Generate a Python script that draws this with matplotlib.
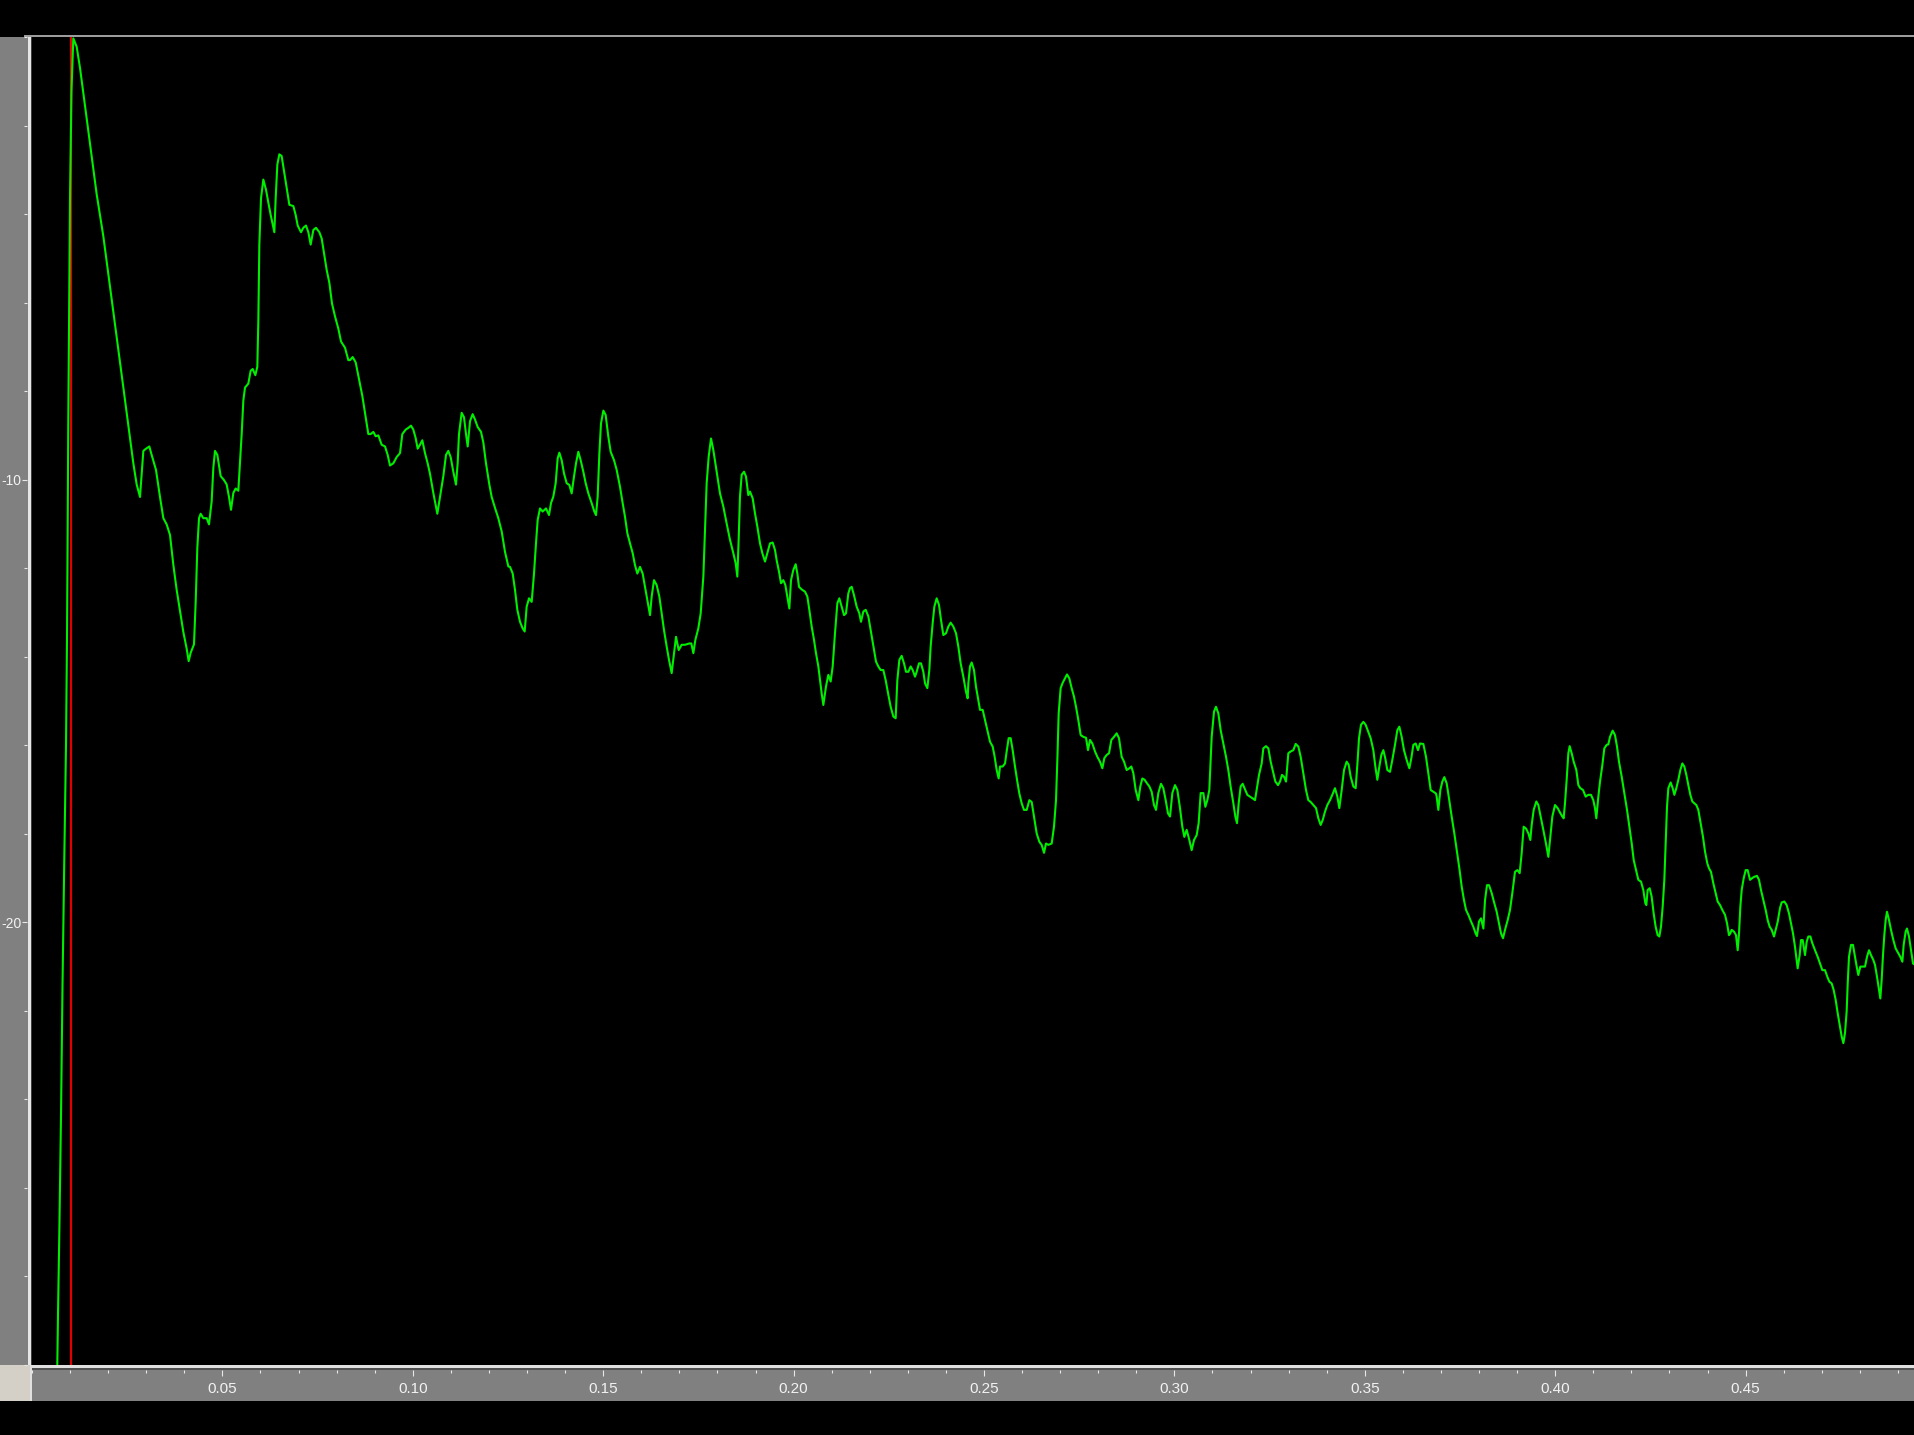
import matplotlib
matplotlib.use("Agg")
import matplotlib.pyplot as plt
from matplotlib.patches import Rectangle
from matplotlib.ticker import FixedLocator, FixedFormatter, MultipleLocator, FormatStrFormatter

plt.rcParams['font.family'] = ['Liberation Sans', 'DejaVu Sans']
plt.rcParams['axes.unicode_minus'] = False

# spectrum trace (normalised frequency, dB)
edge = [(0.0063, -31.0), (0.00664, -30.0), (0.00683, -28.85), (0.00717, -27.04), (0.00762, -24.35),
        (0.00801, -21.44), (0.00846, -18.68), (0.00893, -15.99), (0.00919, -13.62), (0.00953, -8.67),
        (0.00998, -3.64), (0.01037, -1.22)]

seg1 = [(0.01085, -0.03), (0.01173, -0.22), (0.01261, -0.70), (0.01348, -1.27), (0.01436, -1.84),
        (0.01523, -2.41), (0.01611, -2.98), (0.01698, -3.55), (0.01786, -4.02), (0.01873, -4.50),
        (0.01961, -5.07), (0.02048, -5.64), (0.02136, -6.21), (0.02223, -6.78), (0.02311, -7.35),
        (0.02399, -7.92), (0.02486, -8.49), (0.02574, -9.06), (0.02661, -9.63), (0.02749, -10.11),
        (0.02836, -10.39), (0.02924, -9.35), (0.02994, -9.30), (0.03081, -9.25), (0.03142, -9.44),
        (0.03256, -9.78), (0.03361, -10.39), (0.03449, -10.87), (0.03536, -11.01), (0.03624, -11.25),
        (0.03711, -11.92), (0.03799, -12.49), (0.03887, -12.96), (0.03974, -13.44), (0.04062, -13.82),
        (0.04114, -14.10), (0.04167, -13.91), (0.04254, -13.72), (0.04298, -12.77), (0.04342, -11.53),
        (0.04386, -10.87), (0.04429, -10.77), (0.04499, -10.87), (0.04587, -10.87), (0.04648, -11.01),
        (0.04718, -10.49), (0.04762, -9.73), (0.04806, -9.35), (0.04867, -9.44), (0.04955, -9.92),
        (0.05042, -10.01), (0.05112, -10.11), (0.05173, -10.39), (0.05226, -10.68), (0.05287, -10.30),
        (0.05348, -10.20), (0.05418, -10.25), (0.05462, -9.63), (0.05506, -8.97), (0.05550, -8.21),
        (0.05594, -7.92), (0.05681, -7.83), (0.05742, -7.54), (0.05795, -7.50), (0.05865, -7.64),
        (0.05917, -7.45), (0.05944, -6.40), (0.05970, -4.69), (0.06014, -3.64), (0.06075, -3.22),
        (0.06145, -3.45), (0.06206, -3.74), (0.06268, -4.02), (0.06364, -4.41), (0.06399, -3.64),
        (0.06443, -2.88), (0.06495, -2.65), (0.06556, -2.69), (0.06618, -3.03), (0.06688, -3.41),
        (0.06758, -3.79), (0.06863, -3.82), (0.06924, -4.02), (0.06977, -4.26), (0.07064, -4.41),
        (0.07125, -4.31), (0.07195, -4.26), (0.07257, -4.41), (0.07318, -4.69), (0.07388, -4.36),
        (0.07458, -4.31), (0.07546, -4.41), (0.07607, -4.55), (0.07668, -4.88), (0.07738, -5.26),
        (0.07808, -5.55), (0.07878, -6.02), (0.07957, -6.31), (0.08045, -6.59), (0.08115, -6.88),
        (0.08220, -7.02), (0.08307, -7.30), (0.08351, -7.30), (0.08421, -7.23), (0.08500, -7.35),
        (0.08587, -7.73), (0.08675, -8.11), (0.08745, -8.49), (0.08832, -8.97), (0.08894, -8.97),
        (0.08964, -8.92), (0.09025, -9.02), (0.09095, -9.00), (0.09182, -9.21), (0.09270, -9.25),
        (0.09340, -9.44), (0.09401, -9.68), (0.09489, -9.63), (0.09576, -9.49), (0.09664, -9.40),
        (0.09725, -8.97), (0.09813, -8.87), (0.09883, -8.83), (0.09953, -8.78), (0.10014, -8.87),
        (0.10075, -9.06), (0.10128, -9.30), (0.10189, -9.21), (0.10250, -9.11), (0.10320, -9.40),
        (0.10390, -9.63), (0.10452, -9.87), (0.10539, -10.30), (0.10644, -10.77), (0.10714, -10.39),
        (0.10802, -9.92), (0.10872, -9.44), (0.10933, -9.35), (0.10994, -9.49), (0.11064, -9.82),
        (0.11134, -10.11), (0.11178, -9.63), (0.11213, -8.97), (0.11283, -8.49), (0.11345, -8.59),
        (0.11397, -8.97), (0.11441, -9.25), (0.11502, -8.68), (0.11572, -8.52), (0.11633, -8.64),
        (0.11703, -8.81), (0.11791, -8.92), (0.11852, -9.16), (0.11922, -9.63), (0.12010, -10.11),
        (0.12071, -10.39), (0.12174, -10.68), (0.12246, -10.87), (0.12334, -11.17), (0.12421, -11.63),
        (0.12509, -11.96)]

seg2 = [(0.12553, -11.97), (0.12623, -12.12), (0.12684, -12.49), (0.12745, -12.94), (0.12815, -13.21),
        (0.12885, -13.36), (0.12938, -13.43), (0.12990, -12.87), (0.13052, -12.68), (0.13122, -12.76),
        (0.13183, -12.12), (0.13235, -11.44), (0.13279, -10.91), (0.13340, -10.65), (0.13410, -10.72),
        (0.13498, -10.65), (0.13577, -10.80), (0.13629, -10.53), (0.13691, -10.38), (0.13752, -10.08),
        (0.13804, -9.52), (0.13848, -9.39), (0.13909, -9.56), (0.13971, -9.86), (0.14041, -10.08),
        (0.14111, -10.12), (0.14172, -10.31), (0.14233, -9.93), (0.14286, -9.63), (0.14347, -9.37),
        (0.14408, -9.56), (0.14478, -9.82), (0.14540, -10.08), (0.14610, -10.31), (0.14697, -10.53),
        (0.14767, -10.72), (0.14811, -10.80), (0.14855, -10.38), (0.14899, -9.41), (0.14942, -8.73),
        (0.15004, -8.44), (0.15065, -8.54), (0.15135, -9.03), (0.15196, -9.37), (0.15284, -9.56),
        (0.15354, -9.78), (0.15441, -10.16), (0.15511, -10.53), (0.15573, -10.84), (0.15634, -11.21),
        (0.15704, -11.44), (0.15774, -11.66), (0.15835, -11.93), (0.15896, -12.12), (0.15966, -11.97),
        (0.16036, -12.12), (0.16098, -12.42), (0.16159, -12.72), (0.16229, -13.06), (0.16273, -12.64),
        (0.16334, -12.27), (0.16404, -12.38), (0.16474, -12.64), (0.16535, -13.02), (0.16597, -13.40),
        (0.16667, -13.77), (0.16728, -14.07), (0.16798, -14.37), (0.16859, -13.92), (0.16912, -13.55),
        (0.16982, -13.85), (0.17061, -13.73), (0.17148, -13.73), (0.17262, -13.70), (0.17314, -13.70),
        (0.17367, -13.92), (0.17420, -13.62), (0.17498, -13.36), (0.17560, -13.02), (0.17630, -12.19),
        (0.17673, -11.14), (0.17717, -10.08), (0.17770, -9.48), (0.17831, -9.07), (0.17892, -9.33),
        (0.17945, -9.63), (0.18006, -9.97), (0.18067, -10.31), (0.18155, -10.61), (0.18242, -10.99),
        (0.18330, -11.36), (0.18417, -11.66), (0.18479, -11.89), (0.18522, -12.19), (0.18557, -11.36),
        (0.18592, -10.38), (0.18636, -9.89), (0.18698, -9.82), (0.18750, -9.93), (0.18811, -10.35),
        (0.18855, -10.27), (0.18925, -10.42), (0.18986, -10.76), (0.19048, -11.06), (0.19118, -11.44),
        (0.19179, -11.66), (0.19249, -11.85), (0.19310, -11.66), (0.19380, -11.44), (0.19450, -11.42),
        (0.19512, -11.59), (0.19555, -11.82), (0.19617, -12.08), (0.19669, -12.34), (0.19730, -12.27),
        (0.19783, -12.38), (0.19835, -12.64), (0.19888, -12.91), (0.19932, -12.27), (0.19993, -12.04),
        (0.20054, -11.91), (0.20098, -12.12), (0.20142, -12.42), (0.20212, -12.48), (0.20299, -12.53),
        (0.20361, -12.64), (0.20413, -12.94), (0.20475, -13.32), (0.20536, -13.62), (0.20588, -13.92),
        (0.20650, -14.22), (0.20693, -14.53), (0.20737, -14.83), (0.20781, -15.09), (0.20851, -14.67),
        (0.20912, -14.41), (0.20973, -14.56), (0.21026, -14.22), (0.21087, -13.47), (0.21149, -12.79),
        (0.21201, -12.68), (0.21262, -12.87), (0.21324, -13.06), (0.21376, -13.02), (0.21437, -12.57),
        (0.21481, -12.45), (0.21525, -12.42), (0.21586, -12.61), (0.21656, -12.87), (0.21726, -13.02),
        (0.21770, -13.21), (0.21831, -12.98), (0.21893, -12.94), (0.21963, -13.09), (0.22024, -13.40),
        (0.22094, -13.77), (0.22164, -14.11), (0.22225, -14.22), (0.22286, -14.30), (0.22356, -14.30),
        (0.22418, -14.53), (0.22488, -14.86), (0.22549, -15.13), (0.22619, -15.35), (0.22680, -15.39),
        (0.22724, -14.53), (0.22777, -14.07), (0.22838, -13.98), (0.22899, -14.15), (0.22952, -14.34),
        (0.23013, -14.34), (0.23074, -14.22), (0.23127, -14.30), (0.23188, -14.45), (0.23232, -14.34),
        (0.23293, -14.15), (0.23346, -14.15), (0.23407, -14.34), (0.23451, -14.60), (0.23512, -14.71),
        (0.23564, -14.30), (0.23599, -13.77), (0.23652, -13.24), (0.23696, -12.87), (0.23757, -12.68),
        (0.23818, -12.83), (0.23871, -13.17), (0.23932, -13.51), (0.24002, -13.47), (0.24063, -13.32),
        (0.24125, -13.23), (0.24195, -13.32), (0.24265, -13.47), (0.24326, -13.77), (0.24387, -14.15),
        (0.24457, -14.45), (0.24527, -14.79), (0.24571, -14.94)]

seg3 = [(0.24589, -14.60), (0.24632, -14.22), (0.24676, -14.13), (0.24737, -14.30), (0.24790, -14.68),
        (0.24851, -14.98), (0.24895, -15.20), (0.24965, -15.20), (0.25026, -15.43), (0.25088, -15.66),
        (0.25158, -15.92), (0.25228, -16.03), (0.25280, -16.26), (0.25333, -16.56), (0.25385, -16.75),
        (0.25420, -16.48), (0.25490, -16.48), (0.25552, -16.41), (0.25595, -16.14), (0.25648, -15.84),
        (0.25700, -15.84), (0.25753, -16.11), (0.25814, -16.48), (0.25875, -16.82), (0.25928, -17.09),
        (0.25989, -17.31), (0.26050, -17.46), (0.26121, -17.46), (0.26191, -17.24), (0.26252, -17.28),
        (0.26313, -17.61), (0.26383, -17.99), (0.26453, -18.18), (0.26514, -18.25), (0.26576, -18.43),
        (0.26628, -18.22), (0.26690, -18.25), (0.26777, -18.22), (0.26838, -17.84), (0.26891, -17.24),
        (0.26926, -16.33), (0.26961, -15.28), (0.27013, -14.71), (0.27066, -14.59), (0.27127, -14.49),
        (0.27180, -14.40), (0.27241, -14.49), (0.27302, -14.71), (0.27363, -14.90), (0.27416, -15.13),
        (0.27477, -15.43), (0.27539, -15.77), (0.27609, -15.81), (0.27679, -15.83), (0.27731, -16.11),
        (0.27784, -15.88), (0.27845, -15.96), (0.27915, -16.14), (0.27976, -16.26), (0.28046, -16.37),
        (0.28108, -16.52), (0.28160, -16.29), (0.28221, -16.22), (0.28283, -16.18), (0.28344, -15.88),
        (0.28414, -15.81), (0.28484, -15.73), (0.28545, -15.84), (0.28615, -16.26), (0.28677, -16.37),
        (0.28747, -16.56), (0.28817, -16.52), (0.28869, -16.48), (0.28922, -16.63), (0.28983, -17.01),
        (0.29053, -17.24), (0.29105, -16.93), (0.29158, -16.75), (0.29219, -16.78), (0.29281, -16.86),
        (0.29342, -16.93), (0.29403, -17.05), (0.29464, -17.35), (0.29517, -17.46), (0.29578, -17.08),
        (0.29648, -16.87), (0.29709, -16.97), (0.29771, -17.24), (0.29832, -17.54), (0.29885, -17.61),
        (0.29946, -17.08), (0.30016, -16.90), (0.30077, -17.01), (0.30147, -17.42), (0.30208, -17.84),
        (0.30261, -18.07), (0.30322, -17.91), (0.30392, -18.14), (0.30453, -18.37), (0.30515, -18.14),
        (0.30585, -18.03), (0.30637, -17.76), (0.30690, -17.08), (0.30760, -17.08), (0.30812, -17.39),
        (0.30865, -17.24), (0.30917, -17.01), (0.30979, -15.81), (0.31040, -15.24), (0.31092, -15.13),
        (0.31154, -15.28), (0.31215, -15.66), (0.31285, -15.96), (0.31355, -16.26), (0.31416, -16.56),
        (0.31478, -16.94), (0.31548, -17.31), (0.31600, -17.61), (0.31644, -17.76), (0.31688, -17.31),
        (0.31740, -16.93), (0.31793, -16.87), (0.31863, -17.01), (0.31915, -17.12), (0.31985, -17.16),
        (0.32055, -17.20), (0.32117, -17.24), (0.32160, -17.01), (0.32222, -16.67), (0.32292, -16.41),
        (0.32335, -16.07), (0.32405, -16.02), (0.32467, -16.07), (0.32528, -16.37), (0.32598, -16.63),
        (0.32651, -16.82), (0.32721, -16.90), (0.32773, -16.82), (0.32826, -16.67), (0.32878, -16.71),
        (0.32931, -16.82), (0.32992, -16.18), (0.33053, -16.14), (0.33123, -16.11), (0.33185, -15.97),
        (0.33255, -16.03), (0.33316, -16.26), (0.33386, -16.63), (0.33456, -17.01), (0.33517, -17.24),
        (0.33578, -17.28), (0.33648, -17.35), (0.33719, -17.42), (0.33780, -17.65), (0.33841, -17.80),
        (0.33894, -17.69), (0.33955, -17.50), (0.34016, -17.35), (0.34086, -17.24), (0.34147, -17.12),
        (0.34217, -16.97), (0.34279, -17.16), (0.34331, -17.42), (0.34393, -17.01), (0.34454, -16.56),
        (0.34524, -16.37), (0.34576, -16.44), (0.34629, -16.71), (0.34699, -16.93), (0.34760, -16.97),
        (0.34813, -16.33), (0.34848, -15.84), (0.34900, -15.54), (0.34962, -15.47), (0.35023, -15.54),
        (0.35093, -15.70), (0.35154, -15.84), (0.35224, -16.11), (0.35277, -16.48), (0.35329, -16.78),
        (0.35382, -16.48), (0.35434, -16.22), (0.35487, -16.11), (0.35539, -16.30), (0.35592, -16.56),
        (0.35662, -16.60), (0.35723, -16.33), (0.35793, -15.99), (0.35854, -15.66), (0.35907, -15.58),
        (0.35968, -15.81), (0.36029, -16.11), (0.36099, -16.33), (0.36170, -16.52), (0.36222, -16.29),
        (0.36275, -15.99), (0.36336, -15.96), (0.36397, -16.11), (0.36450, -15.96), (0.36537, -15.97),
        (0.36607, -16.26), (0.36668, -16.63), (0.36730, -17.01), (0.36800, -17.05), (0.36870, -17.09)]

seg4 = [(0.36887, -17.16), (0.36931, -17.46), (0.36984, -17.01), (0.37036, -16.82), (0.37089, -16.72),
        (0.37150, -16.86), (0.37211, -17.20), (0.37281, -17.61), (0.37351, -17.99), (0.37421, -18.40),
        (0.37483, -18.78), (0.37544, -19.19), (0.37605, -19.50), (0.37658, -19.72), (0.37719, -19.83),
        (0.37789, -19.98), (0.37850, -20.10), (0.37911, -20.25), (0.37946, -20.31), (0.37999, -19.98),
        (0.38052, -19.91), (0.38113, -20.14), (0.38157, -19.50), (0.38209, -19.16), (0.38262, -19.16),
        (0.38332, -19.34), (0.38402, -19.57), (0.38463, -19.76), (0.38524, -20.02), (0.38577, -20.25),
        (0.38629, -20.36), (0.38682, -20.17), (0.38752, -19.95), (0.38813, -19.72), (0.38874, -19.34),
        (0.38944, -18.86), (0.39006, -18.82), (0.39067, -18.89), (0.39119, -18.44), (0.39172, -17.84),
        (0.39233, -17.88), (0.39295, -17.99), (0.39347, -18.14), (0.39382, -17.80), (0.39435, -17.46),
        (0.39505, -17.27), (0.39557, -17.35), (0.39618, -17.61), (0.39688, -17.91), (0.39758, -18.22),
        (0.39820, -18.52), (0.39872, -18.07), (0.39925, -17.61), (0.39995, -17.35), (0.40065, -17.42),
        (0.40126, -17.52), (0.40187, -17.61), (0.40222, -17.65), (0.40257, -17.31), (0.40301, -16.78),
        (0.40345, -16.18), (0.40380, -16.02), (0.40432, -16.18), (0.40485, -16.37), (0.40555, -16.56),
        (0.40608, -16.90), (0.40660, -16.97), (0.40730, -17.01), (0.40800, -17.16), (0.40870, -17.12),
        (0.40940, -17.12), (0.41001, -17.24), (0.41045, -17.42), (0.41080, -17.65), (0.41133, -17.16),
        (0.41177, -16.82), (0.41238, -16.45), (0.41290, -16.07), (0.41352, -15.99), (0.41395, -15.98),
        (0.41439, -15.81), (0.41509, -15.67), (0.41570, -15.77), (0.41623, -16.03), (0.41675, -16.37),
        (0.41746, -16.71), (0.41816, -17.09), (0.41886, -17.46), (0.41947, -17.84), (0.42008, -18.21),
        (0.42061, -18.59), (0.42122, -18.82), (0.42183, -19.04), (0.42253, -19.08), (0.42314, -19.27),
        (0.42367, -19.57), (0.42393, -19.61), (0.42428, -19.27), (0.42481, -19.23), (0.42533, -19.42),
        (0.42586, -19.80), (0.42638, -20.10), (0.42691, -20.29), (0.42735, -20.32), (0.42778, -20.10),
        (0.42822, -19.65), (0.42866, -19.04), (0.42901, -18.21), (0.42936, -17.39), (0.42971, -16.97),
        (0.43032, -16.84), (0.43085, -16.97), (0.43129, -17.12), (0.43181, -16.97), (0.43234, -16.78),
        (0.43286, -16.56), (0.43339, -16.41), (0.43391, -16.48), (0.43444, -16.67), (0.43496, -16.90),
        (0.43549, -17.12), (0.43601, -17.27), (0.43654, -17.31), (0.43706, -17.35), (0.43759, -17.46),
        (0.43820, -17.76), (0.43881, -18.07), (0.43934, -18.40), (0.43995, -18.67), (0.44039, -18.78),
        (0.44091, -18.86), (0.44153, -19.12), (0.44214, -19.34), (0.44266, -19.53), (0.44328, -19.61),
        (0.44389, -19.72), (0.44459, -19.83), (0.44512, -20.02), (0.44564, -20.29), (0.44599, -20.25),
        (0.44634, -20.17), (0.44695, -20.21), (0.44748, -20.29), (0.44792, -20.63), (0.44827, -20.25),
        (0.44862, -19.65), (0.44897, -19.27), (0.44949, -19.01), (0.45002, -18.82), (0.45054, -18.82),
        (0.45116, -19.04), (0.45159, -19.01), (0.45229, -18.97), (0.45299, -18.95), (0.45352, -19.04),
        (0.45404, -19.27), (0.45466, -19.50), (0.45527, -19.72), (0.45580, -19.95), (0.45632, -20.10),
        (0.45685, -20.17), (0.45746, -20.32), (0.45790, -20.17), (0.45842, -19.99), (0.45903, -19.68),
        (0.45947, -19.55), (0.46017, -19.53), (0.46078, -19.61), (0.46140, -19.80), (0.46192, -20.02),
        (0.46245, -20.25), (0.46297, -20.55), (0.46341, -20.85), (0.46367, -21.04), (0.46420, -20.74),
        (0.46455, -20.40), (0.46499, -20.40), (0.46560, -20.74), (0.46604, -20.44), (0.46647, -20.32),
        (0.46700, -20.32), (0.46752, -20.47), (0.46823, -20.63), (0.46893, -20.78), (0.46954, -20.93),
        (0.47015, -21.08), (0.47085, -21.08), (0.47146, -21.23), (0.47199, -21.34), (0.47260, -21.38),
        (0.47313, -21.53), (0.47365, -21.75), (0.47418, -22.05), (0.47470, -22.32), (0.47523, -22.58),
        (0.47567, -22.73), (0.47610, -22.50), (0.47654, -22.01), (0.47680, -21.41), (0.47715, -20.78),
        (0.47768, -20.51), (0.47820, -20.51), (0.47873, -20.78), (0.47917, -21.00), (0.47960, -21.19),
        (0.48013, -21.00), (0.48074, -21.00), (0.48136, -21.00), (0.48188, -20.78), (0.48241, -20.63),
        (0.48293, -20.74), (0.48354, -20.85), (0.48398, -20.96), (0.48451, -21.23), (0.48503, -21.53),
        (0.48538, -21.72), (0.48573, -21.30), (0.48608, -20.74), (0.48643, -20.29), (0.48678, -19.95),
        (0.48713, -19.76), (0.48766, -19.95), (0.48818, -20.17), (0.48880, -20.40), (0.48941, -20.59),
        (0.49011, -20.70), (0.49063, -20.78), (0.49116, -20.89), (0.49151, -20.51), (0.49203, -20.21),
        (0.49238, -20.14), (0.49291, -20.32), (0.49344, -20.63), (0.49396, -20.93), (0.49449, -20.96)]

cursor_freq = 0.0102
x_major = [0.05, 0.10, 0.15, 0.20, 0.25, 0.30, 0.35, 0.40, 0.45]
y_major = [-20, -10]
y_labels = ['-20', '-10']

trace = edge + seg1 + seg2 + seg3 + seg4
freq = [p[0] for p in trace]
level = [p[1] for p in trace]

W, H = 1915, 1435
fig = plt.figure(figsize=(W / 100, H / 100), dpi=100, facecolor='black')


def panel(x0, y0, x1, y1, color):
    # box given in screen pixels, origin top left
    fig.add_artist(Rectangle((x0 / W, 1 - y1 / H), (x1 - x0) / W, (y1 - y0) / H,
                             transform=fig.transFigure, facecolor=color,
                             edgecolor='none', zorder=-5))


# window chrome around the plot
panel(24, 35, W, 37, '#9c9c9c')
panel(0, 37, 28, 1365, '#808080')
panel(28, 37, 31, 1365, '#e6e6e6')
panel(31, 37, 32, 1365, '#404040')
panel(0, 1365, 30, 1401, '#d4d0c8')
panel(30, 1365, W, 1368, '#e0e0e0')
panel(30, 1368, W, 1370, '#505050')
panel(32, 1370, W, 1401, '#808080')
panel(30, 1368, 32, 1401, '#e0e0e0')

ax = fig.add_axes([32 / W, 1 - 1365 / H, (W - 32) / W, (1365 - 37) / H])
ax.set_facecolor('black')
for s in ax.spines.values():
    s.set_visible(False)

ax.axvline(cursor_freq, color='#e00000', lw=1.6, zorder=2)
ax.plot(freq, level, color='#00ee00', lw=1.5, zorder=3)

ax.set_xlim(0, (W - 32) / 3808)
ax.set_ylim(-30, 0)

ax.spines['bottom'].set_position(('outward', 3.6))
ax.spines['left'].set_position(('outward', 3.6))

ax.xaxis.set_major_locator(FixedLocator(x_major))
ax.xaxis.set_major_formatter(FormatStrFormatter('%.2f'))
ax.xaxis.set_minor_locator(MultipleLocator(0.01))
ax.yaxis.set_major_locator(FixedLocator(y_major))
ax.yaxis.set_major_formatter(FixedFormatter(y_labels))
ax.yaxis.set_minor_locator(MultipleLocator(2))

ax.tick_params(axis='both', which='both', direction='out', color='#e8e8e8',
               labelcolor='#f2f2f2', width=0.8)
ax.tick_params(axis='x', which='major', length=4.3, labelsize=11, pad=4)
ax.tick_params(axis='x', which='minor', length=1.8)
ax.tick_params(axis='y', which='major', length=3.6, labelsize=10, pad=0.5)
ax.tick_params(axis='y', which='minor', length=2.0)

fig.savefig('out.png', dpi=100, facecolor='black')
